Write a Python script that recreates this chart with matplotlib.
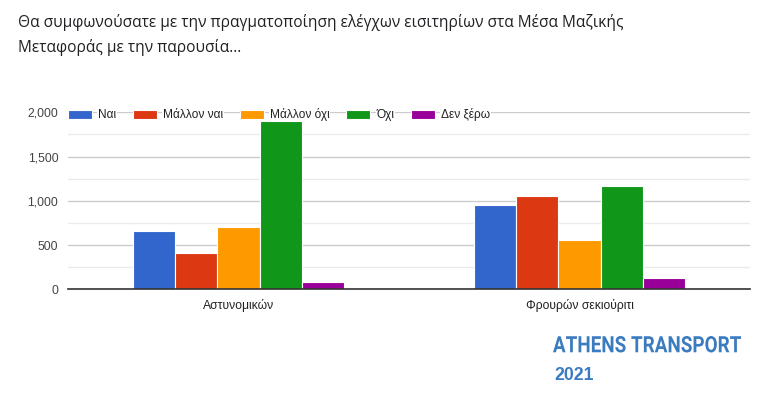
import numpy as np
import matplotlib.pyplot as plt
from matplotlib.ticker import MultipleLocator, FuncFormatter
from matplotlib.textpath import TextPath
from matplotlib.patches import PathPatch
from matplotlib.font_manager import FontProperties
from matplotlib.transforms import Affine2D, IdentityTransform

categories = ["Αστυνομικών", "Φρουρών σεκιούριτι"]
series_names = ["Ναι", "Μάλλον ναι", "Μάλλον όχι", "Όχι", "Δεν ξέρω"]
nai = [660, 953]
mallon_nai = [410, 1054]
mallon_oxi = [705, 557]
oxi = [1905, 1167]
den_xero = [82, 128]
series_values = [nai, mallon_nai, mallon_oxi, oxi, den_xero]
colors = ["#3366cc", "#dc3912", "#ff9900", "#109618", "#990099"]

title_lines = ["Θα συμφωνούσατε με την πραγματοποίηση ελέγχων εισιτηρίων στα Μέσα Μαζικής",
               "Μεταφοράς με την παρουσία..."]

plt.rcParams['font.family'] = ['Liberation Sans', 'DejaVu Sans']

W, H = 784, 397
fig = plt.figure(figsize=(W / 100, H / 100), dpi=100)
ax = fig.add_axes([68 / W, 1 - 289.3 / H, 682 / W, 177 / H])

x = np.arange(len(categories))
group_w = 0.62
bar_w = group_w / len(series_names)
for i, (name, vals, c) in enumerate(zip(series_names, series_values, colors)):
    offs = -group_w / 2 + bar_w * (i + 0.5)
    ax.bar(x + offs, vals, width=bar_w, color=c, label=name,
           edgecolor="white", linewidth=0.8, zorder=3)

ax.set_xlim(-0.5, len(categories) - 0.5)
ax.set_ylim(0, 2000)
ax.yaxis.set_major_locator(MultipleLocator(500))
ax.yaxis.set_minor_locator(MultipleLocator(250))
ax.yaxis.set_major_formatter(FuncFormatter(lambda v, p: f"{int(v):,}"))
ax.grid(axis="y", which="major", color="#cccccc", linewidth=1, zorder=0)
ax.grid(axis="y", which="minor", color="#ebebeb", linewidth=1, zorder=0)
ax.set_axisbelow(True)
for s in ["top", "right", "left"]:
    ax.spines[s].set_visible(False)
ax.spines["bottom"].set_color("#333333")
ax.spines["bottom"].set_linewidth(1.2)
ax.spines["bottom"].set_zorder(4)
ax.tick_params(axis="y", which="both", length=0, labelsize=8.8, labelcolor="#444444", pad=7)
ax.tick_params(axis="x", length=0, labelsize=8.7, labelcolor="#222222", pad=7)
ax.set_xticks(x)
ax.set_xticklabels(categories)

leg = ax.legend(loc="center left", bbox_to_anchor=(0, 0.985), ncol=5, frameon=False,
                fontsize=8.6, handlelength=2.0, handleheight=0.85, handletextpad=0.5,
                columnspacing=1.42, borderaxespad=0, borderpad=0)
for t in leg.get_texts():
    t.set_color("#222222")
    t.set_bbox(dict(facecolor="white", edgecolor="none", pad=0.5))

for line, base in zip(title_lines, [27, 52]):
    fig.text(18 / W, 1 - base / H, line, ha="left", va="baseline", fontsize=11.2,
             color="#202124", family=["Open Sans", "DejaVu Sans"])

# watermark, squeezed into the box it takes in the reference
blue = "#3b7bbf"
tp = TextPath((0, 0), "ATHENS TRANSPORT", size=30,
              prop=FontProperties(family="Roboto", weight="bold"))
ext = tp.get_extents()
x0, x1, top, bot = 553, 741, 336, 352.5
sx = (x1 - x0) / ext.width
sy = (bot - top) / ext.height
tr = Affine2D().translate(-ext.x0, -ext.y0).scale(sx, sy).translate(x0, H - bot)
fig.patches.append(PathPatch(tp, transform=tr + IdentityTransform(),
                             facecolor=blue, edgecolor="none"))
fig.text(554 / W, 1 - 379.5 / H, "2021", ha="left", va="baseline",
         fontsize=12.7, fontweight="bold", color=blue)

fig.savefig("out.png", dpi=100)
